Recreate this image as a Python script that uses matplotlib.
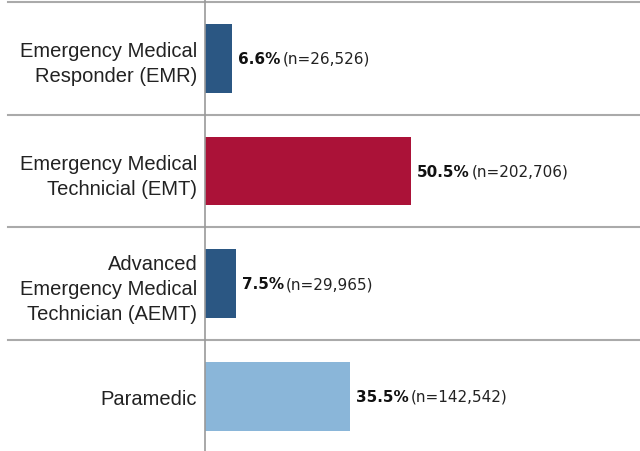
import matplotlib
matplotlib.use("Agg")
import matplotlib.pyplot as plt

categories = [
    "Emergency Medical\nResponder (EMR)",
    "Emergency Medical\nTechnicial (EMT)",
    "Advanced\nEmergency Medical\nTechnician (AEMT)",
    "Paramedic",
]
percents = [6.6, 50.5, 7.5, 35.5]
counts = ["26,526", "202,706", "29,965", "142,542"]
colors = ["#2b5783", "#ab1238", "#2b5783", "#8ab6d9"]

fig = plt.figure(figsize=(6.4, 4.52), dpi=100)
ax = fig.add_axes([205 / 640, 0, 435 / 640, 1])

ypos = list(range(len(categories)))
ax.barh(ypos, percents, height=0.61, color=colors)

ax.set_xlim(0, 435 / 4.08)
ax.set_ylim(3.484, -0.527)

ax.set_yticks(ypos)
ax.set_yticklabels(categories, fontsize=14.5, family="Liberation Sans",
                   color="#222222", linespacing=1.4)
ax.tick_params(axis="y", length=0, pad=5.5)
ax.set_xticks([])

for s in ["top", "right", "bottom"]:
    ax.spines[s].set_visible(False)
ax.spines["left"].set_color("#999999")
ax.spines["left"].set_linewidth(1.2)

# row separators extend into the label area
for y in [-0.5, 0.5, 1.5, 2.5]:
    ax.axhline(y, xmin=(8 - 205) / 435, xmax=1, color="#aaaaaa",
               linewidth=1.5, clip_on=False, zorder=0)

fig.canvas.draw()
renderer = fig.canvas.get_renderer()
for y, p, n in zip(ypos, percents, counts):
    t = ax.annotate(f"{p}%", xy=(p, y), xytext=(4.5, 0), textcoords="offset points",
                    va="center", ha="left", fontsize=11, fontweight="bold",
                    color="#111111")
    bb = t.get_window_extent(renderer)
    x_disp = bb.x1 + 2
    x_data = ax.transData.inverted().transform((x_disp, 0))[0]
    ax.annotate(f"(n={n})", xy=(x_data, y), va="center", ha="left",
                fontsize=11, color="#222222")

fig.savefig("out.png", dpi=100)
